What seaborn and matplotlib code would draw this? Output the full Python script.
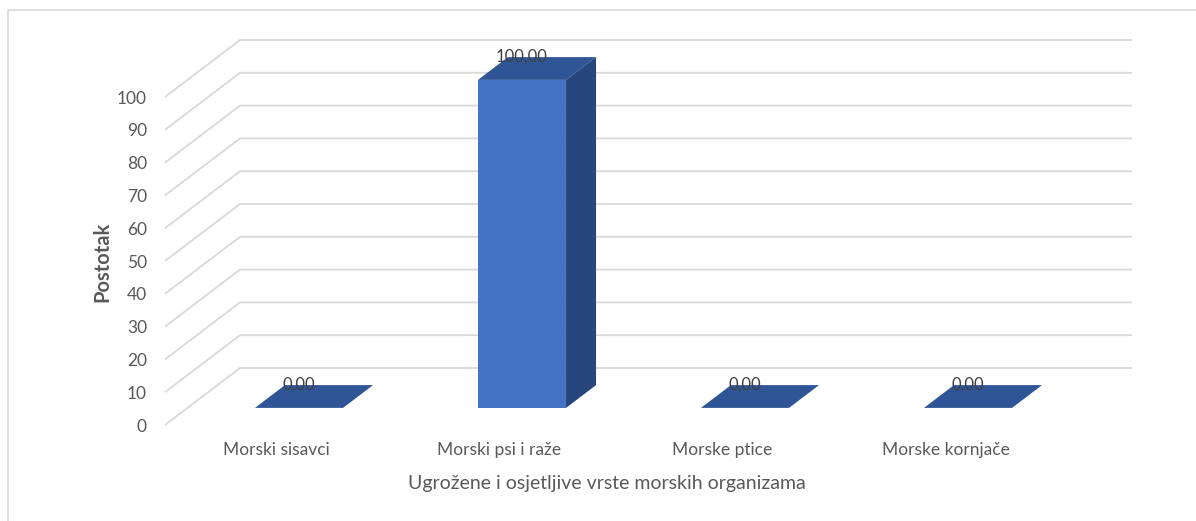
"""
3D-style column chart (Excel look) drawn with seaborn + matplotlib patches
"""

import matplotlib
matplotlib.use("Agg")
import matplotlib.pyplot as plt
from matplotlib.patches import Polygon, Rectangle
import seaborn as sns

# data
categories = ["Morski sisavci", "Morski psi i raže", "Morske ptice", "Morske kornjače"]
values = [0.0, 100.0, 0.0, 0.0]
y_ticks = list(range(0, 101, 10))
x_title = "Ugrožene i osjetljive vrste morskih organizama"
y_title = "Postotak"

# style
FRONT = "#4472C4"
TOP = "#2F5597"
SIDE = "#27467D"
GRID = "#D9D9D9"
TEXT = "#595959"

W, H = 1196, 521
DX = 75 / 223      # depth offset in category units
DY = 57 / 3.28     # depth offset in value units
BAR_D0, BAR_D1 = 0.3, 0.7
BAR_W = 0.395

sns.set_theme(style="white")
plt.rcParams["font.family"] = ["Lato", "DejaVu Sans"]

fig = plt.figure(figsize=(W / 100, H / 100), dpi=100)
ax = fig.add_axes([165 / W, (H - 425) / H, 967 / W, (425 - 40) / H])

sns.barplot(x=categories, y=values, width=BAR_W, color=FRONT,
            saturation=1, ax=ax, zorder=3)

# seaborn resets the categorical limits, so set them afterwards
n = len(categories)
ax.set_xlim(-0.5, n - 0.5 + DX)
ax.set_ylim(0, 100 + DY)

# wall gridlines: oblique on the left wall, horizontal on the back wall
for v in y_ticks:
    ax.plot([-0.5, -0.5 + DX, n - 0.5 + DX], [v, v + DY, v + DY],
            color=GRID, lw=1.3, zorder=0, clip_on=False, solid_capstyle="butt")

ddx = (BAR_D1 - BAR_D0) * DX
ddy = (BAR_D1 - BAR_D0) * DY
for p, val in zip(ax.patches, values):
    x0 = p.get_x() + BAR_D0 * DX
    x1 = x0 + p.get_width()
    y0 = BAR_D0 * DY
    h = p.get_height()
    p.set_x(x0)
    p.set_y(y0)
    p.set_edgecolor("none")
    top = Polygon([(x0, y0 + h), (x1, y0 + h), (x1 + ddx, y0 + h + ddy), (x0 + ddx, y0 + h + ddy)],
                  closed=True, facecolor=TOP, edgecolor="none", zorder=3)
    ax.add_patch(top)
    if h > 0:
        side = Polygon([(x1, y0), (x1, y0 + h), (x1 + ddx, y0 + h + ddy), (x1 + ddx, y0 + ddy)],
                       closed=True, facecolor=SIDE, edgecolor="none", zorder=3)
        ax.add_patch(side)
    ax.text((x0 + x1) / 2, y0 + h + ddy, f"{val:.2f}".replace(".", ","),
            ha="center", va="center", fontsize=12, color="#404040", zorder=5)

ax.set_yticks(y_ticks)
ax.set_yticklabels([str(t) for t in y_ticks])
ax.tick_params(axis="y", length=0, pad=13, labelsize=12.5, labelcolor=TEXT)
ax.tick_params(axis="x", length=0, pad=12, labelsize=12.5, labelcolor=TEXT)
ax.grid(False)
for s in ax.spines.values():
    s.set_visible(False)

ax.set_xlabel(x_title, fontsize=14, color=TEXT)
ax.set_ylabel(y_title, fontsize=14.5, color=TEXT, fontweight="bold")
ax.xaxis.set_label_coords((607 - 165) / 967, (425 - 483) / 385)
ax.yaxis.set_label_coords((102 - 165) / 967, (425 - 262) / 385)
ax.xaxis.label.set_va("center")
ax.yaxis.label.set_va("center")

# chart frame
fig.add_artist(Rectangle((8 / W, -0.1), 1.2, (H - 10) / H + 0.1, transform=fig.transFigure,
                         fill=False, edgecolor=GRID, lw=1.2))

fig.savefig("out.png", dpi=100, facecolor="white")
